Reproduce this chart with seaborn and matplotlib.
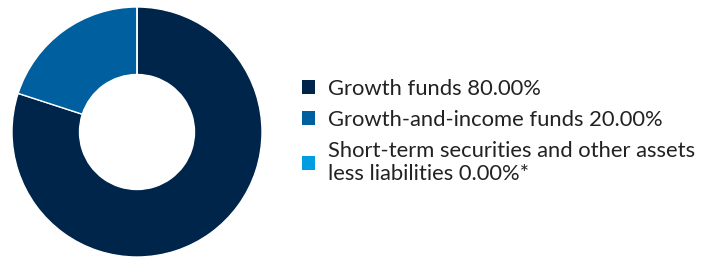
import matplotlib
matplotlib.use("Agg")
import matplotlib.pyplot as plt
import seaborn as sns

sns.set_theme(style="white")
plt.rcParams['font.family'] = ['Lato', 'DejaVu Sans']

# Dados da carteira
categorias = ['Growth funds 80.00%',
              'Growth-and-income funds 20.00%',
              'Short-term securities and other assets\nless liabilities 0.00%*']
valores = [80.0, 20.0, 0.0]
cores = ['#00254b', '#005f9e', '#009ee0']

fig = plt.figure(figsize=(7.05, 2.57), dpi=100)
ax = fig.add_axes([12 / 705, 0 / 257, 250 / 705, 250 / 257])

wedges, _ = ax.pie(valores, colors=cores, startangle=90, counterclock=False,
                   radius=1, wedgeprops=dict(width=0.54, edgecolor='white', linewidth=1))
ax.set_xlim(-1, 1)
ax.set_ylim(-1, 1)
ax.set_aspect('equal')
ax.axis('off')

leg = fig.legend(wedges, categorias, loc='upper left',
                 bbox_to_anchor=(302 / 705, 1 - 79 / 257),
                 frameon=False, fontsize=15.8, borderpad=0, borderaxespad=0,
                 handlelength=0.6, handleheight=0.6, handletextpad=0.6,
                 labelspacing=0.5)
for t in leg.get_texts():
    t.set_color('#222222')
    t.set_linespacing(1.2)
for h in leg.legend_handles:
    h.set_edgecolor('none')

fig.savefig('out.png', dpi=100)
